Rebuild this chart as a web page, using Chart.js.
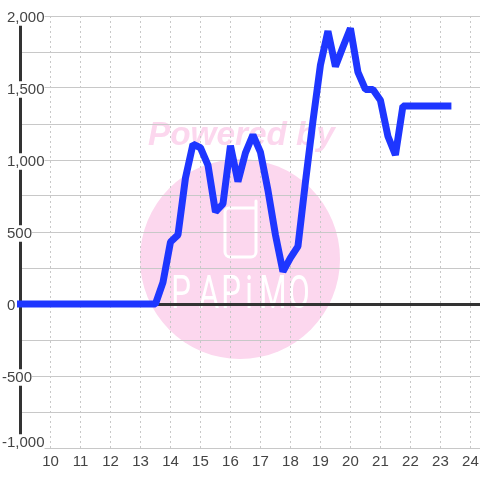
<!DOCTYPE html>
<html>
<head>
<meta charset="utf-8">
<style>
  html, body { margin: 0; padding: 0; background: #fff; }
  canvas { display: block; }
</style>
<script src="https://cdn.jsdelivr.net/npm/chart.js@4"></script>
</head>
<body>
<canvas id="chart" width="480" height="480"></canvas>
<script>
// hour of day, one sample every 15 minutes
const hours = [
  9, 9.25, 9.5, 9.75, 10, 10.25, 10.5, 10.75, 11, 11.25, 11.5, 11.75,
  12, 12.25, 12.5, 12.75, 13, 13.25, 13.5, 13.75, 14, 14.25, 14.5, 14.75,
  15, 15.25, 15.5, 15.75, 16, 16.25, 16.5, 16.75, 17, 17.25, 17.5, 17.75,
  18, 18.25, 18.5, 18.75, 19, 19.25, 19.5, 19.75, 20, 20.25, 20.5, 20.75,
  21, 21.25, 21.5, 21.75, 22, 22.25, 22.5, 22.75, 23, 23.25
];
const power = [
  0, 0, 0, 0, 0, 0, 0, 0, 0, 0, 0, 0,
  0, 0, 0, 0, 0, 0, 0, 150, 430, 480, 875, 1110,
  1085, 965, 640, 695, 1100, 850, 1050, 1175, 1055, 790, 480, 225,
  320, 400, 847, 1270, 1660, 1895, 1650, 1785, 1915, 1610, 1490, 1490,
  1415, 1165, 1035, 1375, 1375, 1375, 1375, 1375, 1375, 1375
];

const TEXT = '#444';
const GRID = '#c8c8c8';
const AXIS = '#333';
const FONT = 'Liberation Sans';

// pink logo behind the grid
const watermark = {
  id: 'watermark',
  beforeDraw(chart) {
    const ctx = chart.ctx;
    ctx.save();
    ctx.fillStyle = '#fcd7ee';
    ctx.beginPath();
    ctx.arc(240, 259, 100, 0, Math.PI * 2);
    ctx.fill();

    ctx.font = `italic bold 33.3px "${FONT}"`;
    ctx.textBaseline = 'alphabetic';
    ctx.fillText('Powered by', 148, 145);

    // phone
    ctx.strokeStyle = '#fff';
    ctx.lineWidth = 3;
    ctx.lineJoin = 'round';
    ctx.lineCap = 'round';
    ctx.beginPath();
    ctx.moveTo(255, 208);
    ctx.lineTo(229, 208);
    ctx.arcTo(225, 208, 225, 212, 4);
    ctx.lineTo(225, 252);
    ctx.arcTo(225, 257, 230, 257, 5);
    ctx.lineTo(251, 257);
    ctx.arcTo(256, 257, 256, 252, 5);
    ctx.lineTo(256, 201);
    ctx.stroke();

    // logo lettering, thin and tall
    ctx.fillStyle = '#fff';
    ctx.font = '400 46px Roboto';
    ctx.textAlign = 'center';
    [['P', 181], ['A', 209], ['P', 231], ['i', 249], ['M', 273], ['O', 299]].forEach(([ch, x]) => {
      ctx.save();
      ctx.translate(x, 308);
      ctx.scale(0.68, 1);
      ctx.fillText(ch, 0, 0);
      ctx.restore();
    });
    ctx.restore();
  }
};

// labels sit left aligned over the axis, minus signs hang out and the
// lowest one is lifted above its grid line (the backdrop moves with the text)
const shiftLabels = {
  id: 'shiftLabels',
  beforeDraw(chart) {
    chart.scales.y.getLabelItems(chart.chartArea).forEach((item) => {
      if (item.shifted || !item.label) return;
      item.shifted = true;
      const o = item.options;
      o.translation[1] += 1.5;
      if (!String(item.label).startsWith('-')) {
        o.translation[0] += 5;
      }
      if (item.label === '-1,000') {
        o.translation[1] -= 7;
      }
    });
  }
};

new Chart(document.getElementById('chart').getContext('2d'), {
  type: 'line',
  data: {
    labels: hours,
    datasets: [{
      data: hours.map((h, i) => ({ x: h, y: power[i] })),
      borderColor: '#1e36ff',
      borderWidth: 7,
      borderCapStyle: 'square',
      borderJoinStyle: 'bevel',
      pointRadius: 0,
      tension: 0,
      clip: false
    }]
  },
  options: {
    responsive: false,
    animation: false,
    layout: { padding: { left: 2, top: 16, right: 0, bottom: 0 } },
    plugins: {
      legend: { display: false },
      tooltip: { enabled: false }
    },
    scales: {
      x: {
        type: 'linear',
        min: 9,
        max: 24.32,
        afterFit: (scale) => {
          scale.height = 32;
          scale.paddingLeft = 0;
          scale.paddingRight = 0;
        },
        border: { color: GRID, width: 1, dash: [2, 3] },
        grid: { color: GRID, lineWidth: 1, drawTicks: false },
        ticks: {
          stepSize: 1,
          includeBounds: false,
          autoSkip: false,
          maxRotation: 0,
          padding: 5,
          color: TEXT,
          font: { family: FONT, size: 15 },
          callback: (v) => (v === 9 ? '' : String(v))
        }
      },
      y: {
        min: -1000,
        max: 2000,
        afterFit: (scale) => { scale.width = 18.5; },
        border: { color: AXIS, width: 3 },
        grid: {
          drawTicks: false,
          color: (c) => (c.tick.value === 0 ? AXIS : GRID),
          lineWidth: (c) => (c.tick.value === 0 ? 3 : 1)
        },
        ticks: {
          stepSize: 250,
          autoSkip: false,
          mirror: true,
          padding: -18.5,
          color: TEXT,
          showLabelBackdrop: true,
          backdropColor: '#fff',
          backdropPadding: 0,
          font: { family: FONT, size: 15, lineHeight: 1.1 },
          callback: (v) => (v % 500 === 0 ? v.toLocaleString('en-US') : '')
        }
      }
    }
  },
  plugins: [watermark, shiftLabels]
});
</script>
</body>
</html>
